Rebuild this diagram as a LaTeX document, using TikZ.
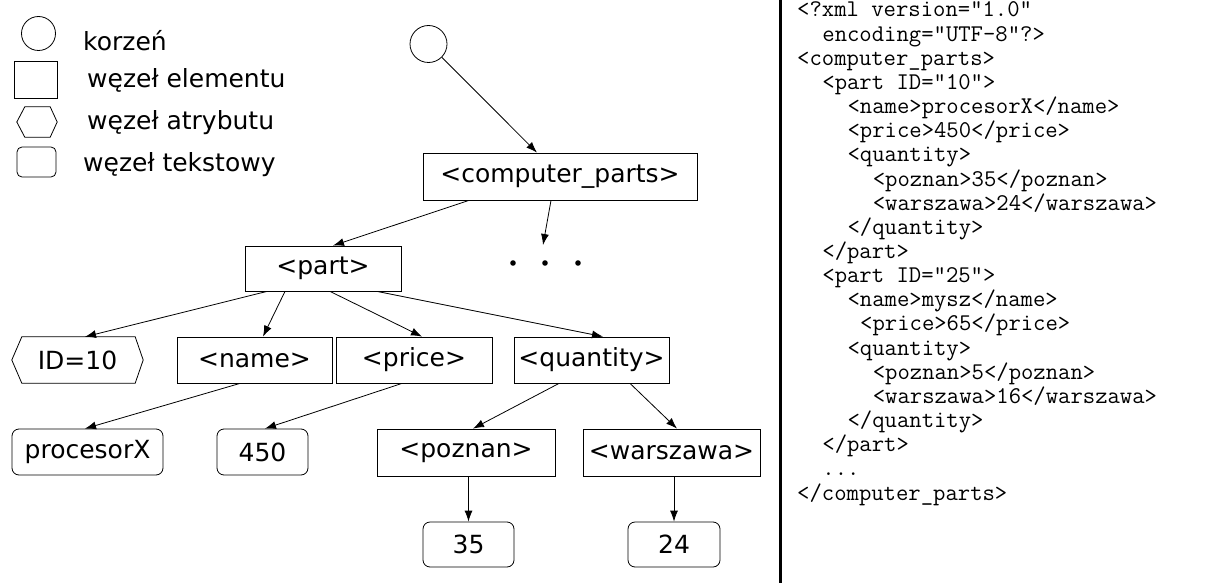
\documentclass[tikz,border=0pt]{standalone}
\usepackage{fontspec}
\setmainfont{DejaVu Sans}
\usetikzlibrary{arrows.meta}
\tikzset{
  treefont/.style={font=\fontsize{25}{30}\selectfont},
  elem/.style={draw, line width=0.8pt, rectangle, inner sep=0pt, treefont},
  textnode/.style={draw, line width=0.8pt, rectangle, rounded corners=7pt, inner sep=0pt, treefont},
  attrnode/.style={rectangle, inner sep=0pt, treefont},
  rootnode/.style={draw, line width=0.8pt, circle, inner sep=0pt},
  hexline/.style={draw, line width=0.8pt},
  arr/.style={line width=0.8pt, -{Latex[length=11pt,width=8pt]}},
  legtext/.style={anchor=west, inner sep=0pt, treefont},
  code/.style={anchor=base west, inner sep=0pt, font=\ttfamily\fontsize{24}{24}\selectfont},
}
\begin{document}
\begin{tikzpicture}[x=1pt, y=-1pt]
\useasboundingbox (0,0) rectangle (1217,583);

% legend
\node[rootnode, minimum size=34pt] (lcirc) at (38.5,33.5) {};
\node[legtext] (lt1) at (83,41) {korzeń};
\node[elem, minimum width=43pt, minimum height=37pt] (lrect) at (35.5,79.5) {};
\node[legtext] (lt2) at (87,80) {węzeł elementu};
\node[attrnode, minimum width=40pt, minimum height=30pt] (lhex) at (37,122) {};
\draw[hexline] (lhex.west) -- ([xshift=8pt]lhex.north west) -- ([xshift=-7pt]lhex.north east) -- (lhex.east) -- ([xshift=-7pt]lhex.south east) -- ([xshift=8pt]lhex.south west) -- cycle;
\node[legtext] (lt3) at (87,123) {węzeł atrybutu};
\node[textnode, rounded corners=5pt, minimum width=39pt, minimum height=30pt] (lround) at (36.5,162) {};
\node[legtext] (lt4) at (83,165) {węzeł tekstowy};

% tree
\node[rootnode, minimum size=37pt] (root) at (428.5,44) {};
\node[elem, minimum width=274pt, minimum height=47pt] (cp) at (560,176.5) {<computer\_parts>};
\node[elem, minimum width=156pt, minimum height=45pt] (part) at (323,268.5) {<part>};
\coordinate (dotsend) at (543,245);
\fill (513,263) circle (2.8pt) (545,263) circle (2.8pt) (578,263) circle (2.8pt);

\node[attrnode, minimum width=131pt, minimum height=46pt] (id) at (77.5,360) {ID=10};
\draw[hexline] (id.west) -- ([xshift=10pt]id.north west) -- ([xshift=-8pt]id.north east) -- (id.east) -- ([xshift=-8pt]id.south east) -- ([xshift=10pt]id.south west) -- cycle;
\node[elem, minimum width=155pt, minimum height=46pt] (name) at (254.5,360) {<name>};
\node[elem, minimum width=156pt, minimum height=46pt] (price) at (414,360) {<price>};
\node[elem, minimum width=155pt, minimum height=46pt] (quantity) at (591.5,360) {<quantity>};

\node[textnode, minimum width=151pt, minimum height=46pt] (procx) at (87.5,452) {procesorX};
\node[textnode, minimum width=91pt, minimum height=46pt] (v450) at (262.5,452) {450};
\node[elem, minimum width=178pt, minimum height=47pt] (poznan) at (466,452.5) {<poznan>};
\node[elem, minimum width=177pt, minimum height=47pt] (warszawa) at (671.5,452.5) {<warszawa>};
\node[textnode, minimum width=91pt, minimum height=45pt] (v35) at (468.5,544.5) {35};
\node[textnode, minimum width=92pt, minimum height=45pt] (v24) at (674,544.5) {24};

% connectors
\draw[arr] (root) -- ([xshift=-23pt]cp.north);
\draw[arr] ([xshift=-91pt]cp.south) -- ([xshift=10pt]part.north);
\draw[arr] ([xshift=-9pt]cp.south) -- (dotsend);
\draw[arr] ([xshift=-56pt]part.south) -- ([xshift=7.5pt]id.north);
\draw[arr] ([xshift=-38pt]part.south) -- ([xshift=8.5pt]name.north);
\draw[arr] ([xshift=7pt]part.south) -- ([xshift=8pt]price.north);
\draw[arr] ([xshift=54pt]part.south) -- ([xshift=11.5pt]quantity.north);
\draw[arr] ([xshift=-14.5pt]name.south) -- ([xshift=-2.5pt]procx.north);
\draw[arr] ([xshift=-12pt]price.south) -- ([xshift=2.5pt]v450.north);
\draw[arr] ([xshift=-32.5pt]quantity.south) -- ([xshift=7pt]poznan.north);
\draw[arr] ([xshift=38.5pt]quantity.south) -- ([xshift=5.5pt]warszawa.north);
\draw[arr] ([xshift=2.5pt]poznan.south) -- (v35.north);
\draw[arr] ([xshift=2.5pt]warszawa.south) -- (v24.north);

% divider
\draw[line width=3pt] (780,0) -- (780,583);

% code
\node[code] (c1) at (797,17) {<?xml version="1.0"};
\node[code] (c2) at (822.2,41.15) {encoding="UTF-8"?>};
\node[code] (c3) at (797,65.3) {<computer\_parts>};
\node[code] (c4) at (822.2,89.45) {<part ID="10">};
\node[code] (c5) at (847.4,113.6) {<name>procesorX</name>};
\node[code] (c6) at (847.4,137.75) {<price>450</price>};
\node[code] (c7) at (847.4,161.9) {<quantity>};
\node[code] (c8) at (872.6,186.05) {<poznan>35</poznan>};
\node[code] (c9) at (872.6,210.2) {<warszawa>24</warszawa>};
\node[code] (c10) at (847.4,234.35) {</quantity>};
\node[code] (c11) at (822.2,258.5) {</part>};
\node[code] (c12) at (822.2,282.65) {<part ID="25">};
\node[code] (c13) at (847.4,306.8) {<name>mysz</name>};
\node[code] (c14) at (860,330.95) {<price>65</price>};
\node[code] (c15) at (847.4,355.1) {<quantity>};
\node[code] (c16) at (872.6,379.25) {<poznan>5</poznan>};
\node[code] (c17) at (872.6,403.4) {<warszawa>16</warszawa>};
\node[code] (c18) at (847.4,427.55) {</quantity>};
\node[code] (c19) at (822.2,451.7) {</part>};
\node[code] (c20) at (822.2,475.85) {...};
\node[code] (c21) at (797,500) {</computer\_parts>};
\end{tikzpicture}
\end{document}
